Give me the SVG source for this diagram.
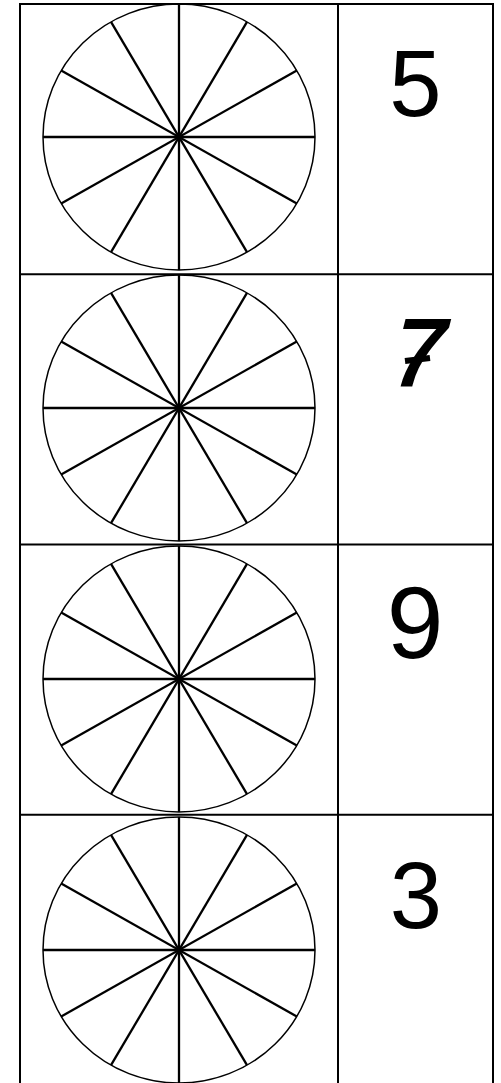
<svg xmlns="http://www.w3.org/2000/svg" width="501" height="1083" viewBox="0 0 501 1083">
<defs>
<style>
.grid{stroke:#000;stroke-width:2;fill:none}
.rim{stroke:#000;stroke-width:1.5;fill:none}
.spoke{stroke:#000;stroke-width:2.3;fill:none}
.num{font-family:"Liberation Sans",Arial,sans-serif;font-size:94px;fill:#000;text-anchor:middle}
</style>
<g id="wheel">
<ellipse class="rim" cx="0" cy="0" rx="136" ry="133"/>
<line class="spoke" x1="-136" y1="0" x2="136" y2="0"/>
<line class="spoke" x1="0" y1="-133" x2="0" y2="133"/>
<line class="spoke" x1="-117.8" y1="-66.5" x2="117.8" y2="66.5"/>
<line class="spoke" x1="-117.8" y1="66.5" x2="117.8" y2="-66.5"/>
<line class="spoke" x1="-68" y1="-115.2" x2="68" y2="115.2"/>
<line class="spoke" x1="-68" y1="115.2" x2="68" y2="-115.2"/>
<circle cx="0" cy="0" r="2.5" fill="#000"/>
</g>
</defs>
<rect width="501" height="1083" fill="#fff"/>
<g id="table">
<line class="grid" x1="20" y1="4" x2="493" y2="4"/>
<line class="grid" x1="20" y1="274.2" x2="493" y2="274.2"/>
<line class="grid" x1="20" y1="544.5" x2="493" y2="544.5"/>
<line class="grid" x1="20" y1="814.7" x2="493" y2="814.7"/>
<line class="grid" x1="20" y1="3" x2="20" y2="1083"/>
<line class="grid" x1="338" y1="3" x2="338" y2="1083"/>
<line class="grid" x1="493" y1="3" x2="493" y2="1083"/>
</g>
<g id="row1">
<use href="#wheel" x="179" y="137"/>
<text class="num" x="415.5" y="116">5</text>
</g>
<g id="row2">
<use href="#wheel" x="179" y="408"/>
<text class="num" x="412" y="385" stroke="#000" stroke-width="3" style="transform:skewX(-14deg);transform-origin:412px 385px">7</text>
<line x1="405" y1="361" x2="430" y2="358" stroke="#000" stroke-width="6"/>
</g>
<g id="row3">
<use href="#wheel" x="179" y="679"/>
<text class="num" x="415" y="658" style="font-size:102px">9</text>
</g>
<g id="row4">
<use href="#wheel" x="179" y="950"/>
<text class="num" x="416" y="928">3</text>
</g>
</svg>
